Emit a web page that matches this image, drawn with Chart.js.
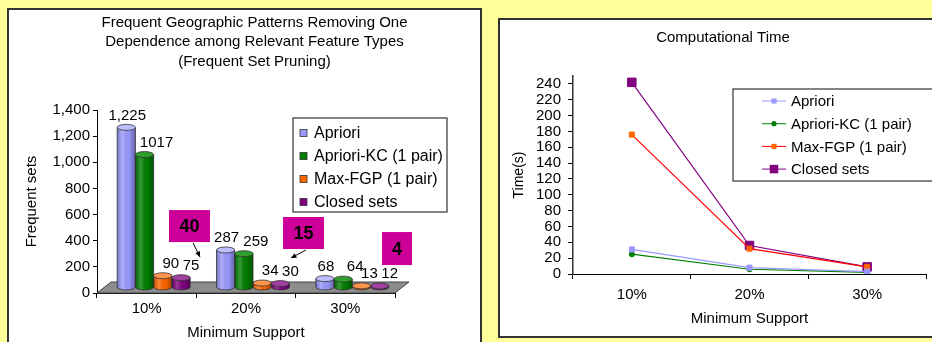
<!DOCTYPE html>
<html><head><meta charset="utf-8">
<script src="https://cdn.jsdelivr.net/npm/chart.js@4.4.1/dist/chart.umd.min.js"></script>
<style>
html,body{margin:0;padding:0;background:#FFFF99;width:932px;height:342px;overflow:hidden;}
#p1{position:absolute;left:7px;top:8px;width:471px;height:400px;border:2px solid #333;background:#fff}
#p2{position:absolute;left:498px;top:18px;width:500px;height:316px;border:2px solid #333;background:#fff}
#c1{position:absolute;left:9px;top:10px}
#c2{position:absolute;left:500px;top:20px}
</style></head>
<body>
<div id="p1"></div><div id="p2"></div>
<canvas id="c1" width="471" height="332"></canvas>
<canvas id="c2" width="432" height="316"></canvas>
<script>
// ---------- data ----------
const categories = ['10%', '20%', '30%'];
const seriesNames = ['Apriori', 'Apriori-KC (1 pair)', 'Max-FGP (1 pair)', 'Closed sets'];
const freqApriori = [1225, 287, 68];
const freqAprioriKC = [1017, 259, 64];
const freqMaxFGP = [90, 34, 13];
const freqClosed = [75, 30, 12];
const timeApriori = [31, 8, 3];
const timeAprioriKC = [25, 6, 2];
const timeMaxFGP = [176, 32, 9];
const timeClosed = [242, 36, 9];
const calloutLabels = ['40', '15', '4'];
const leftTitle = ['Frequent Geographic Patterns Removing One', 'Dependence among Relevant Feature Types', '(Frequent Set Pruning)'];
const rightTitle = 'Computational Time';

const FAM = "'Liberation Sans', Arial, Helvetica, sans-serif";
const barColors = ['#9999FF', '#008000', '#FF6600', '#800080'];
const topColors = ['#BDBDFF', '#2E9E2E', '#FF944D', '#A040A0'];

// ---------- plugins ----------
const cylinderPlugin = {
  id: 'cyl',
  beforeDatasetsDraw(chart, args, o) {
    const {ctx, chartArea: a, scales: {y}} = chart;
    const b = y.getPixelForValue(0);
    ctx.save();
    ctx.beginPath();
    ctx.moveTo(a.left, b); ctx.lineTo(a.right, b);
    ctx.lineTo(a.right + o.dx * 2, b - o.dy * 2); ctx.lineTo(a.left + o.dx * 2, b - o.dy * 2);
    ctx.closePath();
    ctx.fillStyle = '#8c8c8c'; ctx.fill();
    ctx.strokeStyle = '#444'; ctx.lineWidth = 1; ctx.stroke();
    ctx.translate(o.dx, -o.dy);
  },
  afterDatasetsDraw(chart, args, o) {
    const ctx = chart.ctx;
    chart.data.datasets.forEach((ds, i) => {
      const meta = chart.getDatasetMeta(i);
      meta.data.forEach(el => {
        const {x, y, base, width} = el.getProps(['x', 'y', 'base', 'width'], true);
        const r = width / 2, ry = o.ry;
        const g = ctx.createLinearGradient(x - r, 0, x + r, 0);
        g.addColorStop(0, 'rgba(0,0,0,0.25)');
        g.addColorStop(0.3, 'rgba(255,255,255,0.22)');
        g.addColorStop(0.65, 'rgba(0,0,0,0.02)');
        g.addColorStop(1, 'rgba(0,0,0,0.35)');
        ctx.beginPath(); ctx.ellipse(x, base, r, ry, 0, 0, Math.PI);
        ctx.fillStyle = ds.backgroundColor; ctx.fill();
        ctx.fillStyle = g; ctx.fill();
        ctx.strokeStyle = '#333'; ctx.lineWidth = 0.8; ctx.stroke();
        ctx.fillStyle = g; ctx.fillRect(x - r, y, width, base - y);
        ctx.beginPath();
        ctx.moveTo(x - r, y); ctx.lineTo(x - r, base);
        ctx.moveTo(x + r, y); ctx.lineTo(x + r, base);
        ctx.stroke();
        ctx.beginPath(); ctx.ellipse(x, y, r, ry, 0, 0, Math.PI * 2);
        ctx.fillStyle = topColors[i]; ctx.fill(); ctx.stroke();
      });
    });
    ctx.restore();
    ctx.save();
    ctx.font = '15px ' + FAM; ctx.fillStyle = '#000';
    ctx.textAlign = 'center'; ctx.textBaseline = 'middle';
    chart.data.datasets.forEach((ds, i) => {
      chart.getDatasetMeta(i).data.forEach((el, j) => {
        const v = ds.data[j];
        const txt = i === 0 ? v.toLocaleString('en-US') : String(v);
        ctx.fillText(txt, el.x + o.dx + o.labelDx[i], el.y - o.dy - o.labelDy);
      });
    });
    ctx.restore();
  }
};

function markerPath(ctx, style, x, y, r) {
  ctx.beginPath();
  if (style === 'circle') ctx.arc(x, y, r, 0, Math.PI * 2);
  else { const s = r * Math.SQRT1_2; ctx.rect(x - s, y - s, 2 * s, 2 * s); }
}

const boxLegendPlugin = {
  id: 'boxLegend',
  afterDraw(chart, args, o) {
    const ctx = chart.ctx;
    ctx.save();
    ctx.fillStyle = '#fff'; ctx.fillRect(o.x, o.y, o.w, o.h);
    ctx.strokeStyle = '#333'; ctx.lineWidth = 1.2; ctx.strokeRect(o.x, o.y, o.w, o.h);
    ctx.font = o.fontSize + 'px ' + FAM; ctx.textBaseline = 'middle'; ctx.textAlign = 'left';
    chart.data.datasets.forEach((ds, i) => {
      const cy = o.y + o.first + i * o.step;
      if (o.kind === 'square') {
        ctx.fillStyle = ds.backgroundColor;
        ctx.fillRect(o.x + o.symX, cy - 3.5, 7, 7);
        ctx.strokeStyle = '#333'; ctx.lineWidth = 0.8;
        ctx.strokeRect(o.x + o.symX, cy - 3.5, 7, 7);
      } else {
        ctx.strokeStyle = ds.borderColor; ctx.lineWidth = 1;
        ctx.beginPath(); ctx.moveTo(o.x + o.symX, cy); ctx.lineTo(o.x + o.symX + o.lineLen, cy); ctx.stroke();
        markerPath(ctx, ds.pointStyle, o.x + o.symX + o.lineLen / 2, cy, ds.pointRadius);
        ctx.fillStyle = ds.pointBackgroundColor; ctx.fill();
      }
      ctx.fillStyle = '#000';
      ctx.fillText(ds.label, o.x + o.textX, cy + 1);
    });
    ctx.restore();
  }
};

const calloutPlugin = {
  id: 'callouts',
  afterDraw(chart, args, o) {
    const {ctx, scales: {x, y}} = chart;
    ctx.save();
    o.items.forEach((it, k) => {
      const cx = x.getPixelForValue(it.idx), cy = y.getPixelForValue(it.value);
      ctx.fillStyle = '#CC0099';
      ctx.fillRect(cx - it.w / 2, cy - it.h / 2, it.w, it.h);
      ctx.fillStyle = '#000';
      ctx.font = 'bold 18px ' + FAM; ctx.textAlign = 'center'; ctx.textBaseline = 'middle';
      ctx.fillText(calloutLabels[k], cx, cy + 1);
      if (it.arrow) {
        const [i1, v1, i2, v2] = it.arrow;
        const x1 = x.getPixelForValue(i1), y1 = y.getPixelForValue(v1);
        const x2 = x.getPixelForValue(i2), y2 = y.getPixelForValue(v2);
        ctx.strokeStyle = '#000'; ctx.lineWidth = 1;
        ctx.beginPath(); ctx.moveTo(x1, y1); ctx.lineTo(x2, y2); ctx.stroke();
        const ang = Math.atan2(y2 - y1, x2 - x1), L = 6;
        ctx.beginPath(); ctx.moveTo(x2, y2);
        ctx.lineTo(x2 - L * Math.cos(ang - 0.45), y2 - L * Math.sin(ang - 0.45));
        ctx.lineTo(x2 - L * Math.cos(ang + 0.45), y2 - L * Math.sin(ang + 0.45));
        ctx.closePath(); ctx.fill();
      }
    });
    ctx.restore();
  }
};

// ---------- left chart ----------
new Chart(document.getElementById('c1'), {
  type: 'bar',
  data: {
    labels: categories,
    datasets: [
      {label: seriesNames[0], data: freqApriori, backgroundColor: barColors[0]},
      {label: seriesNames[1], data: freqAprioriKC, backgroundColor: barColors[1]},
      {label: seriesNames[2], data: freqMaxFGP, backgroundColor: barColors[2]},
      {label: seriesNames[3], data: freqClosed, backgroundColor: barColors[3]}
    ]
  },
  options: {
    responsive: false, animation: false, locale: 'en-US',
    layout: {padding: {left: 20, right: 0, top: 0, bottom: 0}, autoPadding: false},
    datasets: {bar: {categoryPercentage: 0.735, barPercentage: 1, borderWidth: 0}},
    plugins: {
      legend: {display: false}, tooltip: {enabled: false},
      title: {display: true, text: leftTitle, color: '#000',
        font: {family: FAM, size: 15, weight: 'normal', lineHeight: 1.3},
        padding: {top: 3, bottom: 38.5}},
      cyl: {dx: 7, dy: 5.5, ry: 3, labelDx: [1, 12, 8, 10], labelDy: 12},
      boxLegend: {kind: 'square', x: 284, y: 108, w: 154, h: 94, first: 15, step: 23, symX: 7, textX: 21, fontSize: 16},
      callouts: {items: [
        {idx: 0.431, value: 512, w: 41, h: 32, arrow: [0.467, 383, 0.537, 275]},
        {idx: 1.579, value: 459, w: 41, h: 32, arrow: [1.604, 329, 1.453, 268]},
        {idx: 2.52, value: 340, w: 30, h: 33}
      ]}
    },
    scales: {
      x: {
        grid: {display: true, drawOnChartArea: false, drawTicks: true, tickLength: 5, color: '#000', offset: true},
        border: {display: true, color: '#000', width: 1},
        ticks: {font: {family: FAM, size: 15}, color: '#000', padding: 2},
        title: {display: true, text: 'Minimum Support', color: '#000', font: {family: FAM, size: 15}, padding: {top: 0, bottom: 0}},
        afterFit(s) { s.height = 49; }
      },
      y: {
        min: 0, max: 1400,
        ticks: {stepSize: 200, autoSkip: false, font: {family: FAM, size: 15}, color: '#000', padding: 3},
        grid: {display: true, drawOnChartArea: false, tickLength: 4, color: '#000'},
        border: {display: true, color: '#000', width: 1},
        title: {display: true, text: 'Frequent sets', color: '#000', font: {family: FAM, size: 15}, padding: {top: -6, bottom: 0}},
        afterFit(s) { s.width = 68; }
      },
      y2: {
        position: 'right', display: true,
        grid: {display: false}, ticks: {display: false}, border: {display: false},
        afterFit(s) { s.width = 85; }
      }
    }
  },
  plugins: [cylinderPlugin, boxLegendPlugin, calloutPlugin]
});

// ---------- right chart ----------
new Chart(document.getElementById('c2'), {
  type: 'line',
  data: {
    labels: categories,
    datasets: [
      {label: seriesNames[0], data: timeApriori, borderColor: '#9999FF', pointBackgroundColor: '#9999FF', pointBorderColor: '#9999FF', pointStyle: 'rect', pointRadius: 3.6},
      {label: seriesNames[1], data: timeAprioriKC, borderColor: '#008000', pointBackgroundColor: '#008000', pointBorderColor: '#008000', pointStyle: 'circle', pointRadius: 2.6},
      {label: seriesNames[2], data: timeMaxFGP, borderColor: '#FF0000', pointBackgroundColor: '#FF6600', pointBorderColor: '#FF6600', pointStyle: 'rect', pointRadius: 3.6},
      {label: seriesNames[3], data: timeClosed, borderColor: '#800080', pointBackgroundColor: '#800080', pointBorderColor: '#800080', pointStyle: 'rect', pointRadius: 6}
    ]
  },
  options: {
    responsive: false, animation: false,
    layout: {padding: {left: 20, right: 6, top: 0, bottom: 0}, autoPadding: false},
    datasets: {line: {borderWidth: 1.2, tension: 0, fill: false, pointBorderWidth: 1}},
    plugins: {
      legend: {display: false}, tooltip: {enabled: false},
      title: {display: true, text: rightTitle, color: '#000',
        font: {family: FAM, size: 15, weight: 'normal', lineHeight: 1.2},
        padding: {top: 9, bottom: 29}},
      boxLegend: {kind: 'line', x: 233, y: 69, w: 220, h: 92, first: 12, step: 22.7, symX: 29, lineLen: 24, textX: 58, fontSize: 15}
    },
    scales: {
      x: {
        offset: true,
        grid: {display: true, drawOnChartArea: false, drawTicks: true, tickLength: 5, color: '#000', offset: true},
        border: {display: true, color: '#000', width: 1},
        ticks: {font: {family: FAM, size: 15}, color: '#000', padding: 7},
        title: {display: true, text: 'Minimum Support', color: '#000', font: {family: FAM, size: 15}, padding: {top: 0, bottom: 8}},
        afterFit(s) { s.height = 62; }
      },
      y: {
        min: 0, max: 250,
        ticks: {stepSize: 20, autoSkip: false, includeBounds: false, font: {family: FAM, size: 15}, color: '#000', padding: 7},
        afterBuildTicks(s) { s.ticks = s.ticks.filter(t => t.value <= 240); },
        grid: {display: true, drawOnChartArea: false, tickLength: 5, color: '#000'},
        border: {display: true, color: '#333', width: 1.5},
        title: {display: true, text: 'Time(s)', color: '#000', font: {family: FAM, size: 14}, padding: {top: -9, bottom: 0}},
        afterFit(s) { s.width = 53; }
      }
    }
  },
  plugins: [boxLegendPlugin]
});
</script>
</body></html>
